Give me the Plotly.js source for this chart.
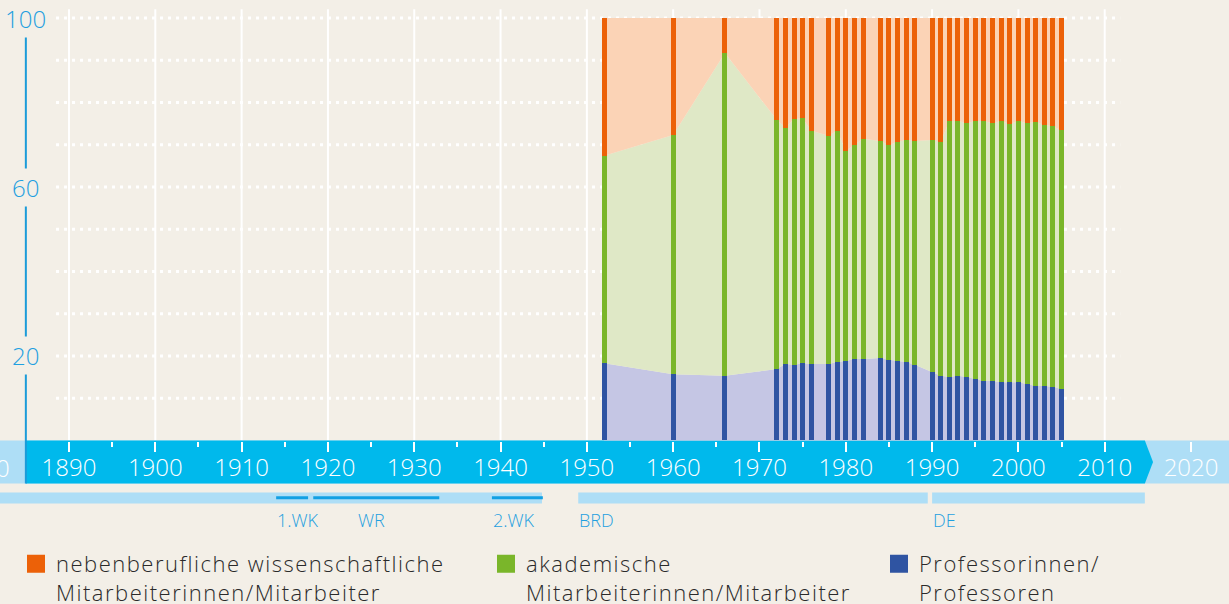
<!DOCTYPE html>
<html>
<head>
<meta charset="utf-8">
<script src="https://cdn.plot.ly/plotly-3.0.1.min.js"></script>
<style>
html,body{margin:0;padding:0;background:#F3EFE7;}
#chart{width:1229px;height:604px;}
</style>
</head>
<body>
<div id="chart"></div>
<script>
// ---------- data (percent shares) ----------
const years = [1952,1960,1966,1972,1973,1974,1975,1976,1978,1979,1980,1981,1982,1984,1985,1986,1987,1988,
               1990,1991,1992,1993,1994,1995,1996,1997,1998,1999,2000,2001,2002,2003,2004,2005];
const professoren = [18.3,15.7,15.3,16.9,18.1,17.9,18.3,18.1,18.1,18.6,18.8,19.3,19.3,19.5,19.1,18.8,18.6,17.9,
                     16.2,15.3,15.0,15.3,15.0,14.6,14.1,14.1,13.8,13.8,13.8,13.4,12.9,12.9,12.7,12.2];
const akademische = [49.1,56.6,76.4,59.0,55.9,58.2,58.0,55.2,54.0,54.7,49.7,50.6,52.1,51.4,50.8,51.9,52.5,53.0,
                     54.9,55.4,60.6,60.3,60.1,61.0,61.5,61.0,61.8,61.1,61.8,61.7,62.5,61.8,61.7,61.2];
const nebenberufliche = [32.6,27.7,8.3,24.1,26.0,23.9,23.7,26.7,27.9,26.7,31.5,30.1,28.6,29.1,30.1,29.3,28.9,29.1,
                     28.9,29.3,24.4,24.4,24.9,24.4,24.4,24.9,24.4,25.1,24.4,24.9,24.6,25.3,25.6,26.6];

const seriesNames = [
  ['nebenberufliche wissenschaftliche', 'Mitarbeiterinnen/Mitarbeiter'],
  ['akademische', 'Mitarbeiterinnen/Mitarbeiter'],
  ['Professorinnen/', 'Professoren']
];

// axis ticks / grid
const yLabelValues = [20, 60, 100];
const yGridValues = [10, 20, 30, 40, 50, 60, 70, 80, 90, 100];
const xGridYears = [1890, 1900, 1910, 1920, 1930, 1940, 1950, 1960, 1970, 1980, 1990, 2000, 2010];
const xMinorYears = [1895, 1905, 1915, 1925, 1935, 1945, 1955, 1965, 1975, 1985, 1995, 2005];

// timeline periods
const eraStart = [1871, 1949, 1990];
const eraEnd = [1944.8, 1989.5, 2014.65];
const eventStart = [1914, 1918.3, 1939];
const eventEnd = [1917.7, 1932.9, 1944.9];
const periodLabels = ['1.WK', 'WR', '2.WK', 'BRD', 'DE'];
const periodLabelYears = [1914, 1925.1, 1939, 1949, 1990];
const periodLabelAnchors = ['left', 'center', 'left', 'left', 'left'];

// ---------- style ----------
const BG = '#F3EFE7';
const C = {
  nebenBar: '#EC6108', akadBar: '#7AB62A', profBar: '#2F54A2',
  nebenArea: '#FBD3B6', akadArea: '#DFE8C6', profArea: '#C5C6E4',
  band: '#00B9EC', bandLight: '#AEDEF6', axisBlue: '#1B9BD9', textBlue: '#1FA0E0',
  eventLine: '#12A0E3', legendText: '#2A2A2A'
};
const FONT = '"Open Sans", Roboto, "Liberation Sans", Arial, sans-serif';
const X_RANGE = [1882.005, 2024.40];
const Y_RANGE = [-38.70, 104.26];
const AXIS_YEAR = 1885;
const BAND_BOTTOM = -10.2;
const legendLabel = lines => lines.map(l => '<span style="letter-spacing:1.5px">' + l + '</span>').join('<br>');

// ---------- traces ----------
const areaDefs = [
  {y: professoren, fill: C.profArea},
  {y: akademische, fill: C.akadArea},
  {y: nebenberufliche, fill: C.nebenArea}
];
const traces = [];
areaDefs.forEach(d => traces.push({
  type: 'scatter', x: years, y: d.y, xaxis: 'x', yaxis: 'y',
  stackgroup: 'area', mode: 'lines', line: {width: 0, shape: 'linear'},
  fillcolor: d.fill, hoverinfo: 'skip', showlegend: false
}));
const barDefs = [
  {y: professoren, color: C.profBar, name: seriesNames[2].join(' ')},
  {y: akademische, color: C.akadBar, name: seriesNames[1].join(' ')},
  {y: nebenberufliche, color: C.nebenBar, name: seriesNames[0].join(' ')}
];
barDefs.forEach(d => traces.push({
  type: 'bar', x: years, y: d.y, xaxis: 'x2', yaxis: 'y2', width: 0.58,
  marker: {color: d.color, line: {width: 0}}, name: d.name, showlegend: false
}));
// legend entries
[[seriesNames[0], C.nebenBar, 'legend'], [seriesNames[1], C.akadBar, 'legend2'], [seriesNames[2], C.profBar, 'legend3']]
  .forEach(([n, col, lg]) => traces.push({
    type: 'scatter', x: [null], y: [null], mode: 'markers', name: legendLabel(n), legend: lg,
    marker: {symbol: 'square', size: 16, color: col, line: {width: 2, color: col}},
    showlegend: true, hoverinfo: 'skip'
  }));

// ---------- shapes ----------
const shapes = [];
xGridYears.forEach(yr => shapes.push({type: 'line', xref: 'x', yref: 'y', x0: yr, x1: yr, y0: 0, y1: 102.06,
  line: {color: '#FFFFFF', width: 2}, layer: 'below'}));
yGridValues.forEach(v => shapes.push({type: 'line', xref: 'x', yref: 'y', x0: 1888.5, x1: 2011.8, y0: v, y1: v,
  line: {color: '#FFFFFF', width: 3, dash: '3px,5px'}, layer: 'below'}));
shapes.push({type: 'rect', xref: 'x', yref: 'y', x0: 1870, x1: 2030, y0: BAND_BOTTOM, y1: 0,
  fillcolor: C.bandLight, line: {width: 0}, layer: 'below'});
shapes.push({type: 'path', xref: 'x', yref: 'y',
  path: `M${AXIS_YEAR},0 L2014.65,0 L2015.6,${BAND_BOTTOM/2} L2014.65,${BAND_BOTTOM} L${AXIS_YEAR},${BAND_BOTTOM} Z`,
  fillcolor: C.band, line: {width: 0}, layer: 'below'});
shapes.push({type: 'line', xref: 'x', yref: 'y', x0: AXIS_YEAR, x1: AXIS_YEAR, y0: BAND_BOTTOM, y1: 100,
  line: {color: C.axisBlue, width: 2}, layer: 'below'});
eraStart.forEach((s, i) => shapes.push({type: 'rect', xref: 'x', yref: 'y', x0: s, x1: eraEnd[i], y0: -14.91, y1: -12.31,
  fillcolor: C.bandLight, line: {width: 0}, layer: 'below'}));
eventStart.forEach((s, i) => shapes.push({type: 'line', xref: 'x', yref: 'y', x0: s, x1: eventEnd[i], y0: -13.55, y1: -13.55,
  line: {color: C.eventLine, width: 3}, layer: 'below'}));

// ---------- annotations ----------
const annotations = [];
yLabelValues.forEach(v => annotations.push({xref: 'x', yref: 'y', x: AXIS_YEAR, y: v, text: String(v),
  showarrow: false, xanchor: 'center', yanchor: 'middle', bgcolor: BG, borderpad: 2,
  font: {family: FONT, size: 24, color: C.textBlue, weight: 300}}));
periodLabels.forEach((t, i) => annotations.push({xref: 'x', yref: 'y', x: periodLabelYears[i], y: -18.8, text: t,
  showarrow: false, xanchor: periodLabelAnchors[i], yanchor: 'middle', borderpad: 0,
  font: {family: FONT, size: 18, color: C.textBlue, weight: 300}}));
// first decade label, only partly inside the picture
annotations.push({xref: 'paper', yref: 'y', x: (1880 - X_RANGE[0]) / (X_RANGE[1] - X_RANGE[0]), y: -6.3,
  text: '1880', showarrow: false, xanchor: 'center', yanchor: 'middle',
  font: {family: FONT, size: 24, color: '#FFFFFF', weight: 300}});

const legendBase = {
  yanchor: 'top', xanchor: 'left', y: 0.1010, orientation: 'v', valign: 'top',
  bgcolor: 'rgba(0,0,0,0)', borderwidth: 0, itemclick: false, itemdoubleclick: false,
  font: {family: FONT, size: 22, color: C.legendText, weight: 300}
};

const layout = {
  width: 1229, height: 604,
  margin: {l: 0, r: 0, t: 0, b: 0, pad: 0, autoexpand: false},
  paper_bgcolor: BG, plot_bgcolor: BG,
  barmode: 'stack', bargap: 0,
  showlegend: true,
  legend: Object.assign({}, legendBase, {x: 16 / 1229}),
  legend2: Object.assign({}, legendBase, {x: 486 / 1229}),
  legend3: Object.assign({}, legendBase, {x: 879 / 1229}),
  xaxis: {
    range: X_RANGE, anchor: 'free', position: (604 - 440.5) / 604, automargin: false,
    showgrid: false, zeroline: false, showline: false, fixedrange: true,
    tickmode: 'linear', tick0: 1880, dtick: 10,
    ticks: 'outside', ticklen: 10, tickwidth: 2, tickcolor: '#FFFFFF',
    ticklabelstandoff: -4,
    tickfont: {family: FONT, size: 24, color: '#FFFFFF', weight: 300},
    minor: {tickmode: 'array', tickvals: xMinorYears, ticks: 'outside', ticklen: 5, tickwidth: 2, tickcolor: '#FFFFFF', showgrid: false}
  },
  yaxis: {range: Y_RANGE, visible: false, fixedrange: true, showgrid: false, zeroline: false, automargin: false},
  xaxis2: {range: X_RANGE, overlaying: 'x', anchor: 'y2', visible: false, fixedrange: true},
  yaxis2: {range: Y_RANGE, overlaying: 'y', anchor: 'x2', visible: false, fixedrange: true},
  shapes: shapes,
  annotations: annotations,
  font: {family: FONT}
};

Plotly.newPlot('chart', traces, layout, {displayModeBar: false, staticPlot: true});
</script>
</body>
</html>
